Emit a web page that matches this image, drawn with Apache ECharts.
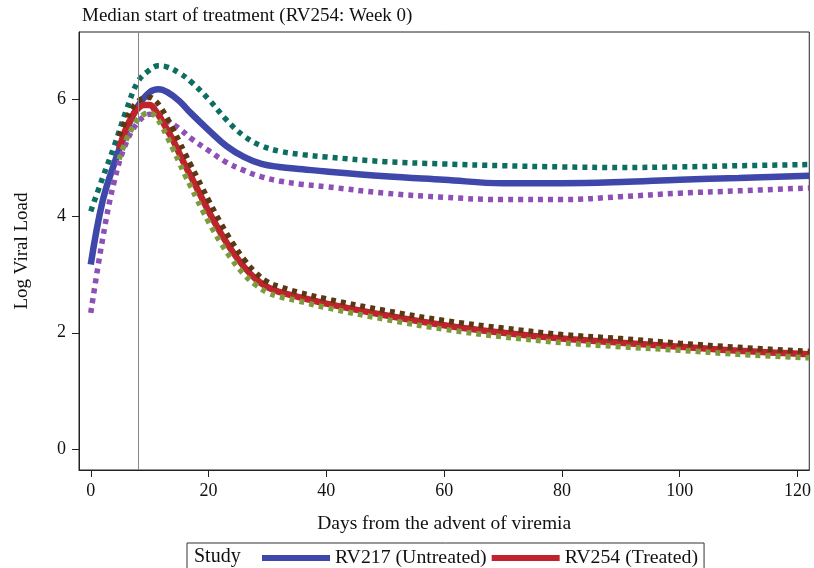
<!DOCTYPE html>
<html>
<head>
    <meta charset="utf-8">
    <title>Log Viral Load</title>
    <script src="https://cdn.jsdelivr.net/npm/echarts@6/dist/echarts.min.js"></script>
    <style type="text/css">
        html, body {margin:0; padding:0; background:#fff; overflow:hidden;}
    </style>
</head>
<body>
<div id="container" style="width: 814px;height:568px;"></div>

<script type="text/javascript">
    // RV217 (untreated) - curve and band
    var daysA = [0, 2, 4, 6, 8, 10, 11.5, 13, 15, 17, 20, 23, 26, 29, 32, 36, 40, 50, 60, 70, 80, 90, 100, 110, 122];
    var rv217 = [3.17, 4.25, 4.9, 5.45, 5.88, 6.12, 6.17, 6.12, 5.97, 5.76, 5.47, 5.2, 5.01, 4.89, 4.84, 4.8, 4.76, 4.68, 4.62, 4.56, 4.56, 4.58, 4.62, 4.65, 4.69];
    var rv217Upper = [4.08, 4.65, 5.2, 5.8, 6.3, 6.5, 6.57, 6.55, 6.45, 6.3, 6.0, 5.65, 5.37, 5.2, 5.11, 5.05, 5.01, 4.93, 4.89, 4.86, 4.84, 4.83, 4.84, 4.86, 4.88];
    var rv217Lower = [2.34, 3.6, 4.6, 5.25, 5.6, 5.74, 5.72, 5.63, 5.5, 5.33, 5.12, 4.92, 4.78, 4.67, 4.6, 4.54, 4.5, 4.39, 4.32, 4.28, 4.28, 4.33, 4.39, 4.43, 4.48];

    // RV254 (treated)
    var daysB = [4.8, 6, 7, 8, 9, 10, 11, 12, 13, 14, 15, 16, 17, 18, 19, 20, 22, 24, 26, 28, 30, 32, 35, 40, 50, 60, 70, 80, 90, 100, 110, 122];
    var rv254 = [5.15, 5.5, 5.7, 5.84, 5.9, 5.9, 5.8, 5.65, 5.47, 5.29, 5.08, 4.87, 4.68, 4.48, 4.28, 4.08, 3.72, 3.4, 3.13, 2.92, 2.78, 2.7, 2.62, 2.5, 2.3, 2.13, 2.0, 1.9, 1.83, 1.76, 1.69, 1.63];
    var rv254Upper = [5.37, 5.65, 5.84, 5.96, 6.02, 6.03, 5.97, 5.84, 5.67, 5.48, 5.28, 5.07, 4.87, 4.67, 4.47, 4.27, 3.89, 3.55, 3.26, 3.03, 2.87, 2.79, 2.7, 2.58, 2.38, 2.21, 2.08, 1.97, 1.9, 1.82, 1.75, 1.68];
    var rv254Lower = [4.97, 5.3, 5.5, 5.65, 5.74, 5.77, 5.7, 5.55, 5.35, 5.14, 4.92, 4.7, 4.5, 4.29, 4.09, 3.9, 3.55, 3.25, 3.0, 2.82, 2.69, 2.62, 2.55, 2.43, 2.23, 2.06, 1.93, 1.83, 1.76, 1.7, 1.63, 1.57];

    var xTicks = [0, 20, 40, 60, 80, 100, 120];
    var yTicks = [0, 2, 4, 6];
    var treatStart = 8;

    function pairs(xs, ys) {
        var out = [];
        for (var i = 0; i < xs.length; i++) out.push([xs[i], ys[i]]);
        return out;
    }

    var FONT = 'Liberation Serif';
    var chart = echarts.init(document.getElementById('container'));

    function solid(name, color, xs, ys) {
        return {
            name: name, type: 'line', smooth: 0.4, symbol: 'none',
            data: pairs(xs, ys), color: color,
            lineStyle: {width: 6.5, color: color}
        };
    }
    function dotted(name, color, xs, ys) {
        return {
            name: name, type: 'line', smooth: 0.4, symbol: 'none',
            data: pairs(xs, ys), color: color,
            lineStyle: {width: 5.5, color: color, type: [5, 5], cap: 'butt'}
        };
    }

    var option = {
        animation: false,
        backgroundColor: '#fff',
        textStyle: {fontFamily: FONT, color: '#111'},
        title: {
            text: 'Median start of treatment (RV254: Week 0)',
            left: 82, top: 7, padding: 0,
            textStyle: {fontFamily: FONT, fontSize: 19, fontWeight: 'normal', color: '#111'}
        },
        grid: {
            left: 79, right: 2, top: 32, bottom: 98,
            show: true, borderColor: '#222', borderWidth: 1, backgroundColor: '#fff'
        },
        legend: {
            data: ['RV217 (Untreated)', 'RV254 (Treated)'],
            left: 187, top: 543,
            padding: [5, 6, 6, 75],
            itemGap: 5, itemWidth: 68, itemHeight: 6,
            icon: 'rect',
            borderColor: '#333', borderWidth: 1,
            textStyle: {fontFamily: FONT, fontSize: 19.8, color: '#111'}
        },
        graphic: [{
            type: 'text', left: 194, top: 547,
            style: {text: 'Study', font: '20px "Liberation Serif"', fill: '#111'}
        }],
        xAxis: {
            type: 'value', min: -2, max: 122,
            name: 'Days from the advent of viremia',
            nameLocation: 'middle', nameGap: 44,
            nameTextStyle: {fontFamily: FONT, fontSize: 19.5, color: '#111'},
            axisLine: {onZero: false, lineStyle: {color: '#222'}},
            axisTick: {customValues: xTicks, length: 7, lineStyle: {color: '#222'}},
            axisLabel: {customValues: xTicks, margin: 12, fontFamily: FONT, fontSize: 18, color: '#111'},
            splitLine: {show: false}
        },
        yAxis: {
            type: 'value', min: -0.35, max: 7.15,
            name: 'Log Viral Load',
            nameLocation: 'middle', nameGap: 47,
            nameTextStyle: {fontFamily: FONT, fontSize: 19, color: '#111'},
            axisLine: {show: true, onZero: false, lineStyle: {color: '#222'}},
            axisTick: {show: true, customValues: yTicks, length: 7, lineStyle: {color: '#222'}},
            axisLabel: {customValues: yTicks, margin: 13, fontFamily: FONT, fontSize: 18, color: '#111'},
            splitLine: {show: false}
        },
        series: [
            solid('RV217 (Untreated)', '#3F48AA', daysA, rv217),
            dotted('RV217 upper', '#0B6E60', daysA, rv217Upper),
            dotted('RV217 lower', '#8E50B4', daysA, rv217Lower),
            solid('RV254 (Treated)', '#C0232C', daysB, rv254),
            dotted('RV254 upper', '#5C3714', daysB, rv254Upper),
            dotted('RV254 lower', '#7B9B3C', daysB, rv254Lower),
            {
                name: 'start', type: 'line', data: [],
                markLine: {
                    silent: true, symbol: 'none', label: {show: false},
                    lineStyle: {color: '#888', width: 1, type: 'solid'},
                    data: [{xAxis: treatStart}]
                }
            }
        ]
    };

    chart.setOption(option);
</script>
</body>
</html>
